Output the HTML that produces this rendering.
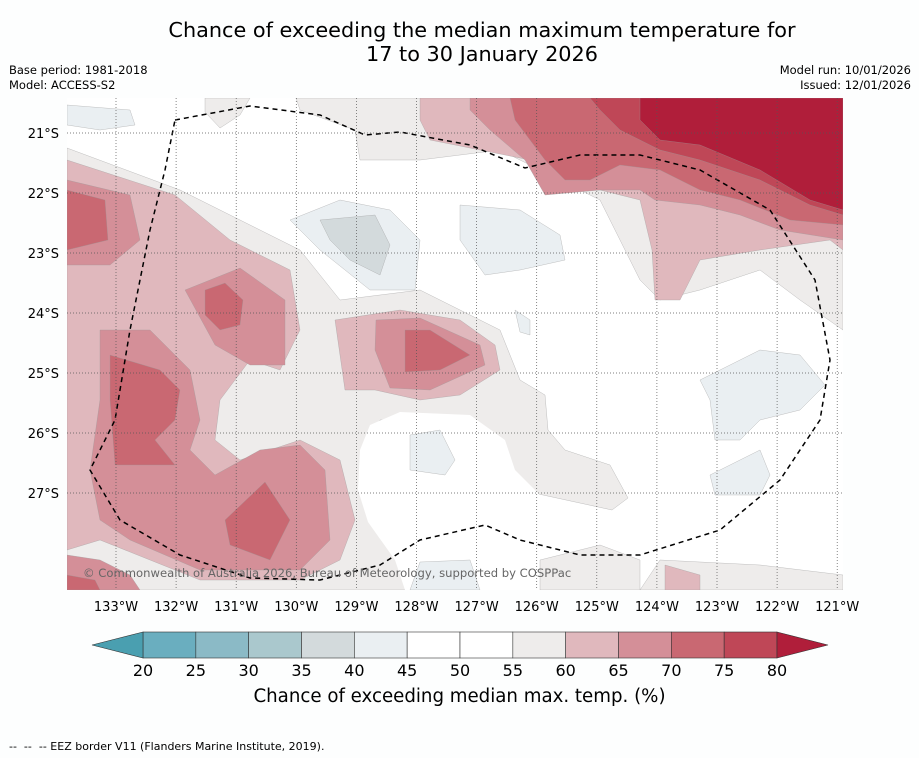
<!DOCTYPE html>
<html><head><meta charset="utf-8">
<style>
body{margin:0;background:#fdfefe;font-family:"Liberation Sans","DejaVu Sans",sans-serif;}
#wrap{position:relative;width:919px;height:758px;overflow:hidden;background:#fdfefe;}
.t{position:absolute;font-family:"DejaVu Sans","Liberation Sans",sans-serif;}
</style></head><body>
<div id="wrap">
<div class="t" style="left:0;width:964px;top:18px;text-align:center;font-size:20.8px;line-height:24px;color:#000">Chance of exceeding the median maximum temperature for<br>17 to 30 January 2026</div>
<div class="t" style="left:9px;top:63px;font-size:11.5px;line-height:15px">Base period: 1981-2018<br>Model: ACCESS-S2</div>
<div class="t" style="right:8px;top:63px;font-size:11.5px;line-height:15px;text-align:right">Model run: 10/01/2026<br>Issued: 12/01/2026</div>
<svg id="svg" width="919" height="758" style="position:absolute;left:0;top:0" xmlns="http://www.w3.org/2000/svg">
<defs><clipPath id="mc"><rect x="67" y="98" width="776" height="492"/></clipPath></defs>
<g id="map" clip-path="url(#mc)">
<rect x="67" y="98" width="776" height="492" fill="#ffffff"/>
</g>
<g id="grid"></g>
<g id="ticks"></g>
<g id="cbar"></g>
</svg>
<div class="t" style="left:83px;top:566px;font-size:11.6px;color:#666">© Commonwealth of Australia 2026, Bureau of Meteorology, supported by COSPPac</div>
<div class="t" style="left:0;width:919px;top:686px;text-align:center;font-size:18.2px">Chance of exceeding median max. temp. (%)</div>
<div class="t" style="left:9px;top:740px;font-size:11px">-- &nbsp;-- &nbsp;-- EEZ border V11 (Flanders Marine Institute, 2019).</div>
</div>
<script>
const levels=[20,25,30,35,40,45,50,55,60,65,70,75,80];
const bandColors=["#6aaebf","#8bbac6","#aac8cd","#d3dadc","#eaeff2","#ffffff","#ffffff","#eeeceb","#e0b8bd","#d48f98","#c96872","#bf4757"];
const underColor="#4a9fb0", overColor="#b01e3a";
const lonTicks=[133,132,131,130,129,128,127,126,125,124,123,122,121];
const latTicks=[21,22,23,24,25,26,27];
const NS="http://www.w3.org/2000/svg";
const lonX=l=>116+(133-l)*60.1;
const latY=l=>133+(l-21)*60;
function mk(tag,attrs,parent){const e=document.createElementNS(NS,tag);for(const k in attrs)e.setAttribute(k,attrs[k]);parent.appendChild(e);return e;}
const map=document.getElementById('map');
const C={w:"#ffffff",g:"#eeeceb",p1:"#e0b8bd",p2:"#d48f98",p3:"#c96872",p4:"#bf4757",r:"#b01e3a",b1:"#eaeff2",b2:"#d3dadc"};
const polys=[
["g","67,148 180,190 300,250 340,300 420,290 500,330 520,380 545,395 548,430 565,450 610,465 628,498 612,510 520,490 470,460 420,420 380,420 370,480 400,560 420,590 67,590"],
["w","370,425 400,412 470,415 505,440 515,470 540,495 565,508 615,512 640,525 640,590 405,590 395,560 368,522 358,490 360,450"],
["g","296,98 843,98 843,330 800,300 760,270 700,290 660,300 640,280 620,240 600,200 580,190 540,170 500,150 420,160 360,160 355,130 300,110"],
["g","660,560 760,565 843,575 843,590 640,590"],
["g","205,98 250,98 240,115 220,128 205,112"],
["g","540,560 600,545 640,560 640,590 540,590"],
["p1","67,160 175,195 230,240 290,270 300,330 280,370 250,360 220,400 215,440 240,460 300,440 340,460 355,520 340,560 300,580 200,580 150,560 100,540 67,550"],
["p1","335,320 400,310 460,320 495,345 500,370 460,395 420,400 375,390 345,390"],
["p1","420,98 843,98 843,250 830,240 760,250 700,260 680,300 655,300 652,250 640,200 600,190 570,190 540,180 530,160 480,150 430,140 420,120"],
["p1","665,565 700,575 700,590 665,590"],
["p2","67,180 130,195 140,240 110,265 67,265"],
["p2","185,290 240,268 285,300 285,365 250,365 215,345"],
["p2","100,330 150,330 190,370 200,420 190,450 215,475 260,450 300,445 325,470 330,540 300,570 200,570 130,540 100,520 90,470 100,400"],
["p2","376,320 420,318 480,345 485,365 430,390 390,388 375,350"],
["p2","470,98 843,98 843,240 780,230 740,215 700,205 655,200 640,190 600,190 545,195 525,160 490,130 470,110"],
["p2","67,555 100,560 130,575 140,590 67,590"],
["p3","67,190 105,200 108,240 67,250"],
["p3","205,290 225,283 243,300 240,325 220,330 205,315"],
["p3","110,355 160,370 180,390 175,420 155,440 175,465 115,465 110,400"],
["p3","225,520 265,482 290,520 270,560 230,545"],
["p3","405,330 430,330 470,355 440,370 405,372"],
["p3","510,98 843,98 843,225 790,220 740,200 700,190 660,170 620,165 590,180 565,180 545,160 515,120"],
["p3","67,575 95,580 100,590 67,590"],
["p4","590,98 843,98 843,215 810,205 760,180 700,160 660,150 620,130 600,110"],
["r","640,98 843,98 843,210 810,200 760,170 700,145 660,140 640,120"],
["b1","290,220 340,200 390,210 420,240 415,290 370,290 320,250"],
["b2","320,220 375,215 390,245 380,275 350,260 330,240"],
["b1","460,205 520,210 560,235 565,260 520,270 485,275 460,240"],
["b1","700,380 760,350 800,355 825,385 800,410 760,420 740,440 715,440 710,400"],
["b1","710,475 760,450 770,475 760,495 715,495"],
["b1","410,435 440,430 455,460 445,475 410,470"],
["b1","67,105 130,110 135,125 100,130 67,125"],
["b1","515,310 530,320 530,335 520,332"],
["b1","420,562 470,560 480,590 410,590"]
];
polys.forEach((p,i)=>{const e=mk('polygon',{points:p[1],fill:C[p[0]],stroke:p[0]==="w"?"none":"#999",'stroke-width':0.3,'stroke-linejoin':'round'},map);

});
const eez=mk('polyline',{points:"175,120 250,106 320,115 365,135 400,132 470,145 525,168 580,155 640,155 700,170 770,210 815,280 830,360 820,420 780,480 720,530 640,555 580,555 520,540 485,525 420,540 380,565 320,580 250,578 180,555 120,520 90,470 115,420 130,330 150,230 165,170 175,120",fill:"none",stroke:"#000",'stroke-width':1.5,'stroke-dasharray':"5,4"},map);


const grid=document.getElementById('grid'), ticks=document.getElementById('ticks');
lonTicks.forEach(l=>{const x=lonX(l);
const gl=mk('line',{x1:x,x2:x,y1:98,y2:590,stroke:"#555",'stroke-width':0.7,'stroke-dasharray':"1,2"},grid);


const t=mk('text',{x:x,y:611,'text-anchor':'middle','font-size':13,'font-family':'DejaVu Sans, Liberation Sans, sans-serif'},ticks);t.textContent=l+"°W";

});
latTicks.forEach(l=>{const y=latY(l);
const gl=mk('line',{x1:67,x2:843,y1:y,y2:y,stroke:"#555",'stroke-width':0.7,'stroke-dasharray':"1,2"},grid);


const t=mk('text',{x:59,y:y+5,'text-anchor':'end','font-size':13,'font-family':'DejaVu Sans, Liberation Sans, sans-serif'},ticks);t.textContent=l+"°S";

});
const cb=document.getElementById('cbar');
const cx0=143,cx1=777,cy=632,ch=26,sw=(cx1-cx0)/bandColors.length;
bandColors.forEach((c,i)=>{const r=mk('rect',{x:cx0+i*sw,y:cy,width:sw,height:ch,fill:c,stroke:"#333",'stroke-width':0.6},cb);

});
const tl=mk('polygon',{points:`${cx0},${cy} 92,${cy+ch/2} ${cx0},${cy+ch}`,fill:underColor,stroke:"#333",'stroke-width':0.6},cb);


const tr=mk('polygon',{points:`${cx1},${cy} 828,${cy+ch/2} ${cx1},${cy+ch}`,fill:overColor,stroke:"#333",'stroke-width':0.6},cb);


levels.forEach((v,i)=>{const t=mk('text',{x:cx0+i*sw,y:676,'text-anchor':'middle','font-size':16,'font-family':'DejaVu Sans, Liberation Sans, sans-serif'},cb);t.textContent=v;

});
</script>
</body></html>
